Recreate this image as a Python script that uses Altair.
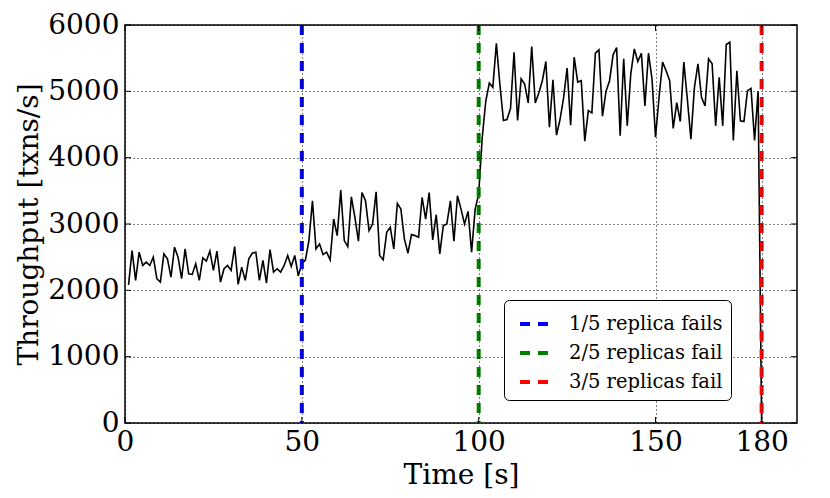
import altair as alt
import pandas as pd

seconds = list(range(1, 181))
throughput = [
    2080, 2600, 2150, 2575, 2375, 2425, 2375, 2500, 2175, 2125,
    2550, 2475, 2200, 2650, 2500, 2175, 2625, 2250, 2240, 2400,
    2150, 2490, 2440, 2590, 2300, 2590, 2125, 2325, 2375, 2300,
    2660, 2090, 2350, 2150, 2475, 2560, 2575, 2150, 2450, 2110,
    2615, 2275, 2325, 2275, 2375, 2525, 2360, 2525, 2220, 2400,
    2455, 2750, 3350, 2625, 2700, 2540, 2575, 2460, 3075, 2825,
    3510, 2750, 2660, 3410, 3100, 2740, 3475, 3350, 2900, 3000,
    3485, 2525, 2460, 2875, 2950, 2625, 3310, 3225, 2775, 2560,
    2840, 2825, 2800, 3400, 3075, 3475, 2760, 3140, 2550, 2975,
    3000, 3350, 2740, 3425, 3225, 3000, 3190, 2575, 3225, 3450,
    4300, 4850, 5125, 5060, 5725, 5100, 4560, 4575, 4740, 5590,
    4560, 5190, 5110, 4825, 5675, 4825, 4975, 5160, 5450, 4460,
    5175, 4340, 4575, 4900, 5350, 4490, 5515, 5140, 5160, 4250,
    4710, 4675, 5575, 5625, 4625, 5000, 5160, 5550, 5660, 4330,
    5490, 4480, 5260, 5640, 5450, 5575, 4780, 5575, 5190, 4310,
    4910, 5440, 5310, 5160, 4440, 4830, 4545, 5440, 4880, 4280,
    5060, 5415, 4910, 4780, 5490, 5415, 4480, 5210, 4480, 5705,
    5740, 4260, 5310, 4555, 4545, 5010, 5045, 4260, 5000, 0,
]
event_times = [50, 100, 180]
event_labels = ["1/5 replica fails", "2/5 replicas fail", "3/5 replicas fail"]
event_colors = ["#0000ff", "#008000", "#ff0000"]
x_ticks = [0, 50, 100, 150, 180]
y_ticks = [0, 1000, 2000, 3000, 4000, 5000, 6000]

W, H = 672, 398
FONT = "DejaVu Serif"

df = pd.DataFrame({"t": seconds, "v": throughput})
ev = pd.DataFrame({"t": event_times, "label": event_labels})
xt = pd.DataFrame({"t": x_ticks})
yt = pd.DataFrame({"v": y_ticks})

xscale = alt.Scale(domain=[0, 190], nice=False, zero=False)
yscale = alt.Scale(domain=[0, 6000], nice=False)

common_axis = dict(
    ticks=False, domain=False, grid=True, gridColor="black", gridDash=[1, 3],
    gridWidth=1, gridOpacity=1, labelFont=FONT, labelFontSize=28,
    labelColor="black", titleFont=FONT, titleFontSize=28,
    titleFontWeight="normal", titleColor="black", labelFlush=False,
    labelOverlap=False, zindex=1, format="d",
)
xaxis = alt.Axis(values=x_ticks, title="Time [s]", labelPadding=5,
                 titlePadding=5, **common_axis)
yaxis = alt.Axis(values=y_ticks, title="Throughput [txns/s]", labelPadding=6,
                 titlePadding=4, **common_axis)

line = alt.Chart(df).mark_line(color="black", strokeWidth=1.6).encode(
    x=alt.X("t:Q", scale=xscale, axis=xaxis),
    y=alt.Y("v:Q", scale=yscale, axis=yaxis),
)

events = alt.Chart(ev).mark_rule(strokeWidth=4, strokeDash=[10, 8]).encode(
    x=alt.X("t:Q", scale=xscale),
    color=alt.Color(
        "label:N",
        scale=alt.Scale(domain=event_labels, range=event_colors),
        legend=alt.Legend(
            title=None, orient="none", legendX=379, legendY=275,
            symbolType="stroke", symbolStrokeWidth=4, symbolSize=784,
            symbolDash=[10, 8], labelFont=FONT, labelFontSize=19.5,
            labelColor="black", labelOffset=19, padding=8, rowPadding=3,
            strokeColor="black", fillColor="white", cornerRadius=5,
            symbolOffset=6, labelLimit=400, zindex=2,
        ),
    ),
)

tick_style = dict(color="black", strokeWidth=1)
xt_bottom = alt.Chart(xt).mark_rule(**tick_style).encode(
    x=alt.X("t:Q", scale=xscale), y=alt.value(H), y2=alt.value(H - 6))
xt_top = alt.Chart(xt).mark_rule(**tick_style).encode(
    x=alt.X("t:Q", scale=xscale), y=alt.value(0), y2=alt.value(6))
yt_left = alt.Chart(yt).mark_rule(**tick_style).encode(
    y=alt.Y("v:Q", scale=yscale), x=alt.value(0), x2=alt.value(6))
yt_right = alt.Chart(yt).mark_rule(**tick_style).encode(
    y=alt.Y("v:Q", scale=yscale), x=alt.value(W - 6), x2=alt.value(W))

chart = alt.layer(line, events, xt_bottom, xt_top, yt_left, yt_right).properties(
    width=W, height=H,
    padding={"left": 117, "top": 17, "right": 20, "bottom": 66},
    autosize=alt.AutoSizeParams(type="none"),
    background="white",
).configure_view(stroke="black", strokeWidth=1.5)

chart.save("out.html", embed_options={"renderer": "svg", "actions": False})
